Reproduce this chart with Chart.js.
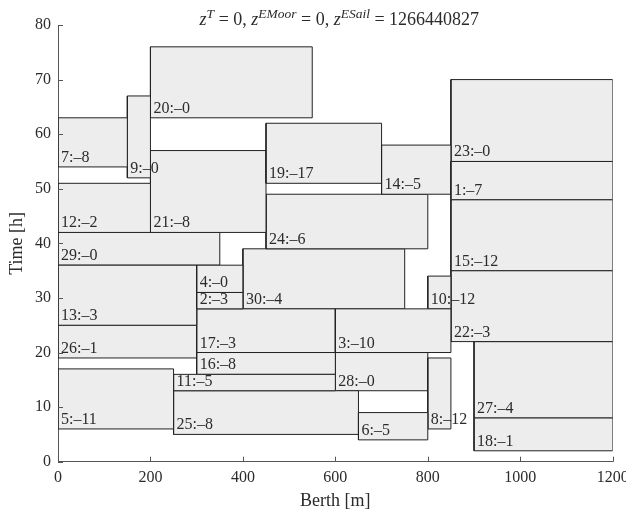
<!DOCTYPE html>
<html>
<head>
<meta charset="utf-8">
<script src="https://cdn.jsdelivr.net/npm/chart.js@4.4.1/dist/chart.umd.min.js"></script>
<style>
  html, body { margin: 0; padding: 0; background: #fff; }
  #wrap { position: relative; width: 626px; height: 513px; }
</style>
</head>
<body>
<div id="wrap"><canvas id="berthPlan"></canvas></div>
<script>
// vessel number and the penalty shown after the colon
const vessels = [1, 2, 3, 4, 5, 6, 7, 8, 9, 10, 11, 12, 13, 14, 15, 16, 17, 18, 19, 20, 21, 22, 23, 24, 25, 26, 27, 28, 29, 30];
const penalty = [7, 3, 10, 0, 11, 5, 8, 12, 0, 12, 5, 2, 3, 5, 12, 8, 3, 1, 17, 0, 8, 3, 0, 6, 8, 1, 4, 0, 0, 4];
// berth position [m]
const berthStart = [850, 300, 600, 300, 0, 650, 0, 800, 150, 800, 250, 0, 0, 700, 850, 300, 300, 900, 450, 200, 200, 850, 850, 450, 250, 0, 900, 600, 0, 400];
const berthEnd = [1200, 400, 850, 400, 250, 800, 150, 850, 200, 850, 600, 200, 300, 850, 1200, 600, 600, 1200, 700, 550, 450, 1200, 1200, 800, 650, 300, 1200, 800, 350, 750];
// time window [h]
const timeStart = [48, 28, 20, 31, 6, 4, 54, 6, 52, 28, 13, 42, 25, 49, 35, 16, 20, 2, 51, 63, 42, 22, 55, 39, 5, 19, 8, 13, 36, 28];
const timeEnd = [55, 31, 28, 36, 17, 9, 63, 19, 67, 34, 16, 51, 36, 58, 48, 20, 28, 8, 62, 76, 57, 35, 70, 49, 13, 25, 22, 20, 42, 39];

const xTicks = [0, 200, 400, 600, 800, 1000, 1200];
const yTicks = [0, 10, 20, 30, 40, 50, 60, 70, 80];

const serif = '"Liberation Serif", "DejaVu Serif", serif';
const txtColor = '#2b2b2b';

const datasets = vessels.map((v, i) => ({
    label: String(v),
    data: [
        { x: berthStart[i], y: timeStart[i] },
        { x: berthEnd[i], y: timeStart[i] },
        { x: berthEnd[i], y: timeEnd[i] },
        { x: berthStart[i], y: timeEnd[i] },
        { x: berthStart[i], y: timeStart[i] }
    ],
    showLine: true,
    fill: 'shape',
    backgroundColor: '#ededed',
    borderColor: '#222',
    borderWidth: 1,
    pointRadius: 0,
    tension: 0
}));

// labels "n:–p" in the lower left corner of each box
const boxLabels = {
    id: 'boxLabels',
    afterDatasetsDraw(chart) {
        const { ctx, scales: { x, y } } = chart;
        ctx.save();
        ctx.font = '16px ' + serif;
        ctx.fillStyle = txtColor;
        ctx.textAlign = 'left';
        ctx.textBaseline = 'alphabetic';
        vessels.forEach((v, i) => {
            ctx.fillText(v + ':\u2013' + penalty[i], x.getPixelForValue(berthStart[i]) + 3, y.getPixelForValue(timeStart[i]) - 5);
        });
        ctx.restore();
    }
};

// small tick marks pointing inside the plot
const innerTicks = {
    id: 'innerTicks',
    afterDraw(chart) {
        const { ctx, chartArea, scales: { x, y } } = chart;
        ctx.save();
        ctx.strokeStyle = '#555';
        ctx.lineWidth = 1;
        ctx.beginPath();
        xTicks.forEach(t => {
            const px = Math.round(x.getPixelForValue(t)) + 0.5;
            ctx.moveTo(px, chartArea.bottom);
            ctx.lineTo(px, chartArea.bottom - 5);
        });
        yTicks.forEach(t => {
            const py = Math.round(y.getPixelForValue(t)) + 0.5;
            ctx.moveTo(chartArea.left, py);
            ctx.lineTo(chartArea.left + 5, py);
        });
        ctx.stroke();
        ctx.restore();
    }
};

// title with superscripts
const titleParts = [
    { t: 'z', it: true }, { t: 'T', it: true, sup: true }, { t: ' = 0, ' },
    { t: 'z', it: true }, { t: 'EMoor', it: true, sup: true }, { t: ' = 0, ' },
    { t: 'z', it: true }, { t: 'ESail', it: true, sup: true }, { t: ' = 1266440827' }
];
const supTitle = {
    id: 'supTitle',
    afterDraw(chart) {
        const { ctx, chartArea } = chart;
        const fontOf = p => (p.it ? 'italic ' : '') + (p.sup ? '13.5px ' : '18px ') + serif;
        ctx.save();
        ctx.fillStyle = txtColor;
        ctx.textBaseline = 'alphabetic';
        ctx.textAlign = 'left';
        let w = 0;
        titleParts.forEach(p => { ctx.font = fontOf(p); w += ctx.measureText(p.t).width; });
        let px = (chartArea.left + chartArea.right) / 2 + 4 - w / 2;
        const base = 25;
        titleParts.forEach(p => {
            ctx.font = fontOf(p);
            ctx.fillText(p.t, px, p.sup ? base - 7 : base);
            px += ctx.measureText(p.t).width;
        });
        ctx.restore();
    }
};

const config = {
    type: 'scatter',
    data: { datasets: datasets },
    options: {
        responsive: true,
        maintainAspectRatio: false,
        animation: false,
        events: [],
        layout: { padding: { top: 25, right: 13.3, left: 0, bottom: 0 } },
        plugins: {
            legend: { display: false },
            tooltip: { enabled: false },
            title: { display: false }
        },
        scales: {
            x: {
                type: 'linear',
                min: 0,
                max: 1200,
                afterBuildTicks: s => { s.ticks = xTicks.map(v => ({ value: v })); },
                afterFit: s => { s.height = 51.3; s.paddingLeft = 0; s.paddingRight = 0; },
                grid: { display: false, drawTicks: false },
                border: { display: true, color: '#555', width: 1 },
                ticks: { padding: 6, color: txtColor, font: { family: serif, size: 16 }, maxRotation: 0, callback: v => String(v) },
                title: { display: true, text: 'Berth [m]', color: txtColor, font: { family: serif, size: 18 }, padding: { top: 0, bottom: 0.5 } }
            },
            y: {
                type: 'linear',
                min: 0,
                max: 80,
                afterBuildTicks: s => { s.ticks = yTicks.map(v => ({ value: v })); },
                afterFit: s => { s.width = 58; s.paddingTop = 0; s.paddingBottom = 0; },
                grid: { display: false, drawTicks: false },
                border: { display: true, color: '#555', width: 1 },
                ticks: { padding: 7, color: txtColor, font: { family: serif, size: 16 }, callback: v => String(v) },
                title: { display: true, text: 'Time [h]', color: txtColor, font: { family: serif, size: 18 }, padding: { top: 6.7, bottom: 0 } }
            }
        }
    },
    plugins: [boxLabels, innerTicks, supTitle]
};

const ctxPlan = document.getElementById('berthPlan').getContext('2d');
var planChart = new Chart(ctxPlan, config);
</script>
</body>
</html>
